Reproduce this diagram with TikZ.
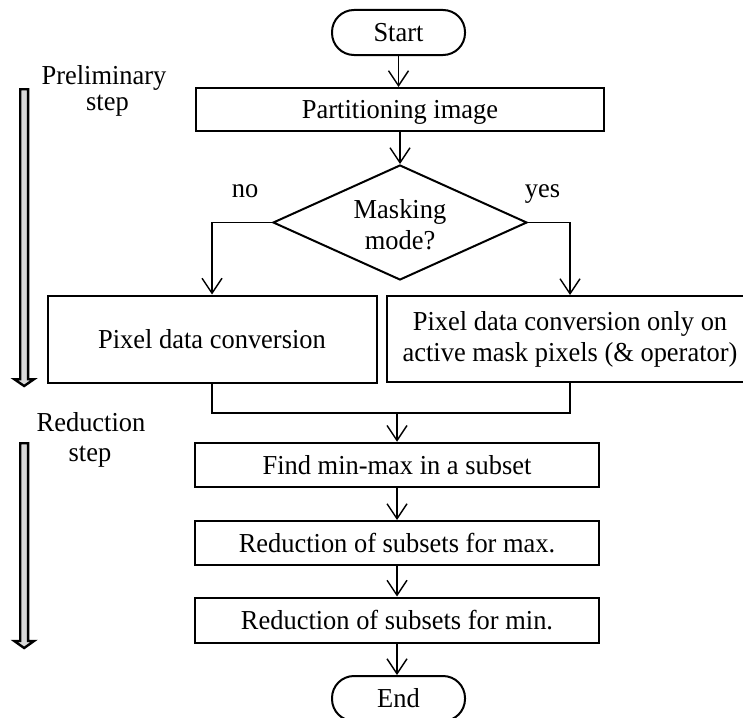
\documentclass[tikz,border=0pt]{standalone}
\usepackage{fontspec}
\setmainfont[FakeStretch=0.965]{Liberation Serif}
\usetikzlibrary{arrows.meta,shapes.geometric,calc}
\begin{document}
\begin{tikzpicture}[x=1pt,y=-1pt,
  font=\fontsize{27.4}{31}\selectfont,
  box/.style={draw,line width=2pt,rectangle,inner sep=0pt,text height=18pt,text depth=0pt},
  term/.style={draw,line width=2pt,rectangle,rounded corners=22pt,inner sep=0pt,
    minimum width=133pt,minimum height=45pt,text height=18pt,text depth=0pt},
  flow/.style={line width=1.4pt},
  flowarrow/.style={flow,-{Straight Barb[length=15pt,width=20pt]}},
  phase/.style={draw=black,fill=gray!30,line width=2.4pt,miter limit=10},
]
\useasboundingbox (0,0) rectangle (743,717);

% main flow
\node[term] (start) at (398.5,32.5) {Start};
\node[box,minimum width=408pt,minimum height=43pt] (part) at (400,109.5) {Partitioning image};
\node[draw,diamond,line width=2pt,inner sep=0pt,minimum width=254pt,minimum height=115pt] (dec) at (400,222.5) {};
\node[align=center,inner sep=0pt] (dectext) at (400,225) {Masking\\mode?};
\node[box,minimum width=329pt,minimum height=87pt] (conv) at (212,339) {Pixel data conversion};
\node[draw,line width=2pt,inner sep=0pt,minimum width=366.6pt,minimum height=86pt,
  align=center] (convm) at (570,339) {Pixel data conversion only on\\active mask pixels (\& operator)};
\node[box,minimum width=404pt,minimum height=44.5pt] (find) at (397,465) {Find min-max in a subset};
\node[box,minimum width=404pt,minimum height=44pt] (redmax) at (397,543) {Reduction of subsets for max.};
\node[box,minimum width=404pt,minimum height=45pt] (redmin) at (397,620) {Reduction of subsets for min.};
\node[term] (end) at (398.5,698.5) {End};

% branch labels
\node[anchor=base] (no) at (245,197.7) {no};
\node[anchor=base] (yes) at (542.5,197.7) {yes};

% connectors
\draw[flowarrow] (start.south) -- (start.south |- part.north);
\draw[flowarrow] (part.south) -- (dec.north);
\draw[flowarrow] (dec.west) -| (conv.north);
\draw[flowarrow] (dec.east) -| (convm.north);
\coordinate (merge) at (397,413);
\draw[flow] (conv.south) |- (merge) -| (convm.south);
\draw[flowarrow] (merge) -- (find.north);
\draw[flowarrow] (find.south) -- (redmax.north);
\draw[flowarrow] (redmax.south) -- (redmin.north);
\draw[flowarrow] (redmin.south) -- (end.north -| redmin.south);

% phase markers
\node[anchor=base] (prel) at (104,84) {Preliminary};
\node[anchor=base] (prels) at (107.5,110.5) {step};
\draw[phase] (20.2,89.2) -- (28.1,89.2) -- (28.1,379.2) -- (34,379.2) -- (24.15,386)
  -- (14.3,379.2) -- (20.2,379.2) -- cycle;
\node[anchor=base] (red) at (91,431.7) {Reduction};
\node[anchor=base] (reds) at (90,461.7) {step};
\draw[phase] (20.2,443.2) -- (28.1,443.2) -- (28.1,641) -- (34,641) -- (24.15,648)
  -- (14.3,641) -- (20.2,641) -- cycle;
\end{tikzpicture}
\end{document}
